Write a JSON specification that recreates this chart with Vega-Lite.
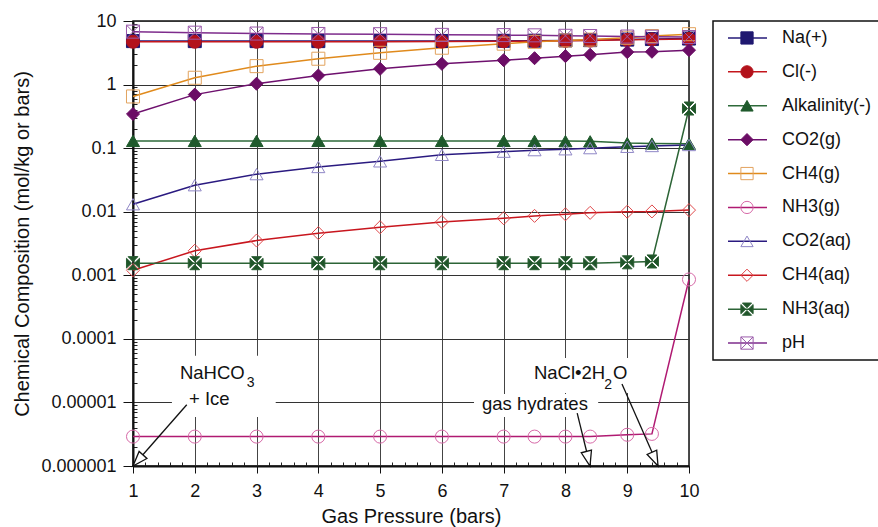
{
  "$schema": "https://vega.github.io/schema/vega-lite/v6.json",
  "padding": {"left": 12, "top": 11, "right": 0, "bottom": 0},
  "bounds": "flush",
  "spacing": 24,
  "config": {"font": "Liberation Sans", "view": {"stroke": "#111", "strokeWidth": 1.5}},
  "datasets": {
    "d": [
      {"p": 1, "Na(+)": 4.83, "Cl(-)": 4.72, "Alkalinity(-)": 0.13, "CO2(g)": 0.344, "CH4(g)": 0.65, "NH3(g)": 2.9e-6, "CO2(aq)": 0.0131, "CH4(aq)": 0.0012, "NH3(aq)": 0.00155, "pH": 6.8},
      {"p": 2, "Na(+)": 4.83, "Cl(-)": 4.72, "Alkalinity(-)": 0.13, "CO2(g)": 0.695, "CH4(g)": 1.28, "NH3(g)": 2.9e-6, "CO2(aq)": 0.0261, "CH4(aq)": 0.00243, "NH3(aq)": 0.00155, "pH": 6.55},
      {"p": 3, "Na(+)": 4.83, "Cl(-)": 4.72, "Alkalinity(-)": 0.13, "CO2(g)": 1.03, "CH4(g)": 1.95, "NH3(g)": 2.9e-6, "CO2(aq)": 0.039, "CH4(aq)": 0.00352, "NH3(aq)": 0.00155, "pH": 6.35},
      {"p": 4, "Na(+)": 4.83, "Cl(-)": 4.72, "Alkalinity(-)": 0.13, "CO2(g)": 1.39, "CH4(g)": 2.55, "NH3(g)": 2.9e-6, "CO2(aq)": 0.0505, "CH4(aq)": 0.0046, "NH3(aq)": 0.00155, "pH": 6.25},
      {"p": 5, "Na(+)": 4.83, "Cl(-)": 4.72, "Alkalinity(-)": 0.13, "CO2(g)": 1.77, "CH4(g)": 3.16, "NH3(g)": 2.9e-6, "CO2(aq)": 0.062, "CH4(aq)": 0.0057, "NH3(aq)": 0.00155, "pH": 6.2},
      {"p": 6, "Na(+)": 4.85, "Cl(-)": 4.75, "Alkalinity(-)": 0.13, "CO2(g)": 2.12, "CH4(g)": 3.8, "NH3(g)": 2.9e-6, "CO2(aq)": 0.0785, "CH4(aq)": 0.0069, "NH3(aq)": 0.00155, "pH": 6.05},
      {"p": 7, "Na(+)": 4.88, "Cl(-)": 4.8, "Alkalinity(-)": 0.13, "CO2(g)": 2.42, "CH4(g)": 4.4, "NH3(g)": 2.9e-6, "CO2(aq)": 0.088, "CH4(aq)": 0.0079, "NH3(aq)": 0.00155, "pH": 6.0},
      {"p": 7.5, "Na(+)": 4.9, "Cl(-)": 4.82, "Alkalinity(-)": 0.13, "CO2(g)": 2.6, "CH4(g)": 4.7, "NH3(g)": 2.9e-6, "CO2(aq)": 0.093, "CH4(aq)": 0.0086, "NH3(aq)": 0.00155, "pH": 5.95},
      {"p": 8, "Na(+)": 4.95, "Cl(-)": 4.88, "Alkalinity(-)": 0.129, "CO2(g)": 2.8, "CH4(g)": 4.95, "NH3(g)": 2.9e-6, "CO2(aq)": 0.096, "CH4(aq)": 0.0091, "NH3(aq)": 0.00155, "pH": 5.85},
      {"p": 8.4, "Na(+)": 5.0, "Cl(-)": 4.92, "Alkalinity(-)": 0.128, "CO2(g)": 2.94, "CH4(g)": 5.1, "NH3(g)": 2.9e-6, "CO2(aq)": 0.1, "CH4(aq)": 0.0096, "NH3(aq)": 0.00155, "pH": 5.8},
      {"p": 9, "Na(+)": 5.1, "Cl(-)": 5.05, "Alkalinity(-)": 0.12, "CO2(g)": 3.24, "CH4(g)": 5.45, "NH3(g)": 3.1e-6, "CO2(aq)": 0.105, "CH4(aq)": 0.01, "NH3(aq)": 0.0016, "pH": 5.7},
      {"p": 9.4, "Na(+)": 5.2, "Cl(-)": 5.12, "Alkalinity(-)": 0.118, "CO2(g)": 3.28, "CH4(g)": 5.8, "NH3(g)": 3.2e-6, "CO2(aq)": 0.108, "CH4(aq)": 0.0101, "NH3(aq)": 0.00165, "pH": 5.65},
      {"p": 10, "Na(+)": 5.3, "Cl(-)": 5.22, "Alkalinity(-)": 0.117, "CO2(g)": 3.48, "CH4(g)": 6.2, "NH3(g)": 0.00086, "CO2(aq)": 0.112, "CH4(aq)": 0.0106, "NH3(aq)": 0.42, "pH": 5.6}
    ],
    "series": [{"s": "Na(+)"}, {"s": "Cl(-)"}, {"s": "Alkalinity(-)"}, {"s": "CO2(g)"}, {"s": "CH4(g)"}, {"s": "NH3(g)"}, {"s": "CO2(aq)"}, {"s": "CH4(aq)"}, {"s": "NH3(aq)"}, {"s": "pH"}],
    "boxes": [
      {"x1": 1.63, "x2": 3.31, "y1": 5.9e-6, "y2": 5.4e-5},
      {"x1": 6.52, "x2": 8.53, "y1": 5.9e-6, "y2": 1.36e-5},
      {"x1": 7.41, "x2": 9.06, "y1": 1.41e-5, "y2": 5.0e-5}
    ],
    "arrows": [
      {"x1": 1.87, "y1": 9.2e-6, "x2": 1.0, "y2": 1e-6, "hx": 1.081, "hy": 1.22e-6, "a": 222},
      {"x1": 8.19, "y1": 6.8e-6, "x2": 8.4, "y2": 1e-6, "hx": 8.368, "hy": 1.3e-6, "a": 166},
      {"x1": 8.915, "y1": 1.95e-5, "x2": 9.5, "y2": 1e-6, "hx": 9.449, "hy": 1.28e-6, "a": 156}
    ],
    "labels": [
      {"x": 1.76, "y": 2.9e-5, "t": "NaHCO"},
      {"x": 1.906, "y": 1.13e-5, "t": "+ Ice"},
      {"x": 6.649, "y": 9.4e-6, "t": "gas hydrates"},
      {"x": 7.49, "y": 2.9e-5, "t": "NaCl•2H"},
      {"x": 8.77, "y": 2.9e-5, "t": "O"}
    ],
    "subs": [
      {"x": 2.84, "y": 2.02e-5, "t": "3"},
      {"x": 8.63, "y": 1.88e-5, "t": "2"}
    ]
  },
  "hconcat": [
    {
      "width": 556,
      "height": 445,
      "resolve": {"axis": {"x": "independent", "y": "independent"}},
      "layer": [
        {
          "data": {"name": "boxes"},
          "mark": {"type": "rect", "fill": "white", "stroke": null},
          "encoding": {
            "x": {"field": "x1", "type": "quantitative", "scale": {"domain": [1, 10], "nice": false, "zero": false},
              "axis": {"orient": "bottom", "values": [1.2,1.4,1.6,1.8,2.2,2.4,2.6,2.8,3.2,3.4,3.6,3.8,4.2,4.4,4.6,4.8,5.2,5.4,5.6,5.8,6.2,6.4,6.6,6.8,7.2,7.4,7.6,7.8,8.2,8.4,8.6,8.8,9.2,9.4,9.6,9.8],
                "labels": false, "grid": false, "domain": false, "ticks": true, "tickSize": -4, "tickColor": "#222", "tickWidth": 1, "title": null}},
            "x2": {"field": "x2"},
            "y": {"field": "y1", "type": "quantitative", "scale": {"type": "log", "domain": [1e-6, 10], "nice": false},
              "axis": {"orient": "left", "values": [2e-6,3e-6,4e-6,5e-6,6e-6,7e-6,8e-6,9e-6,2e-5,3e-5,4e-5,5e-5,6e-5,7e-5,8e-5,9e-5,2e-4,3e-4,4e-4,5e-4,6e-4,7e-4,8e-4,9e-4,2e-3,3e-3,4e-3,5e-3,6e-3,7e-3,8e-3,9e-3,2e-2,3e-2,4e-2,5e-2,6e-2,7e-2,8e-2,9e-2,0.2,0.3,0.4,0.5,0.6,0.7,0.8,0.9,2,3,4,5,6,7,8,9],
                "labels": false, "grid": false, "domain": false, "ticks": true, "tickSize": -4, "tickColor": "#222", "tickWidth": 1, "title": null}},
            "y2": {"field": "y2"}
          }
        },
        {
          "data": {"name": "d"},
          "transform": [{"fold": ["Na(+)", "Cl(-)", "Alkalinity(-)", "CO2(g)", "CH4(g)", "NH3(g)", "CO2(aq)", "CH4(aq)", "NH3(aq)", "pH"], "as": ["s", "v"]}],
          "mark": {"type": "line", "strokeWidth": 1.5},
          "encoding": {
            "x": {"field": "p", "type": "quantitative", "scale": {"domain": [1, 10], "nice": false, "zero": false},
              "axis": {"orient": "bottom", "values": [1,2,3,4,5,6,7,8,9,10], "format": "d", "grid": true, "gridColor": "#444", "gridWidth": 1,
                "tickSize": 7, "tickColor": "#111", "tickWidth": 1, "domainColor": "#111", "domainWidth": 2,
                "labelFontSize": 18, "labelColor": "#111", "labelPadding": 9, "labelFlush": false, "labelOverlap": false,
                "title": "Gas Pressure (bars)", "titleFontSize": 20, "titleFontWeight": "normal", "titleColor": "#111", "titlePadding": 6}},
            "y": {"field": "v", "type": "quantitative", "scale": {"type": "log", "domain": [1e-6, 10], "nice": false},
              "axis": {"orient": "left", "values": [1e-6, 1e-5, 1e-4, 1e-3, 0.01, 0.1, 1, 10], "format": ".6~f", "grid": true, "gridColor": "#333", "gridWidth": 1,
                "tickSize": 10, "tickColor": "#111", "tickWidth": 1, "domainColor": "#111", "domainWidth": 2,
                "labelFontSize": 18, "labelColor": "#111", "labelPadding": 7, "labelOverlap": false, "labelFlush": false,
                "title": "Chemical Composition (mol/kg or bars)", "titleFontSize": 20, "titleFontWeight": "normal", "titleColor": "#111", "titlePadding": 8}},
            "color": {"field": "s", "type": "nominal", "legend": null,
              "scale": {"domain": ["Na(+)", "Cl(-)", "Alkalinity(-)", "CO2(g)", "CH4(g)", "NH3(g)", "CO2(aq)", "CH4(aq)", "NH3(aq)", "pH"],
                "range": ["#241a78", "#c4161c", "#2e6a3a", "#6e106e", "#e08a1c", "#b01a72", "#2a1a80", "#c8161e", "#2c6436", "#7e2c8c"]}},
            "order": {"field": "p", "type": "quantitative"}
          }
        },
        {
          "data": {"name": "d"},
          "transform": [{"fold": ["Na(+)", "Cl(-)", "Alkalinity(-)", "CO2(g)", "CH4(g)", "NH3(g)", "CO2(aq)", "CH4(aq)", "NH3(aq)", "pH"], "as": ["s", "v"]}],
          "mark": {"type": "point", "size": 170, "strokeWidth": 1, "opacity": 1},
          "encoding": {
            "x": {"field": "p", "type": "quantitative", "scale": {"domain": [1, 10], "nice": false, "zero": false}, "axis": null},
            "y": {"field": "v", "type": "quantitative", "scale": {"type": "log", "domain": [1e-6, 10], "nice": false}, "axis": null},
            "shape": {"field": "s", "type": "nominal", "legend": null,
              "scale": {"domain": ["Na(+)", "Cl(-)", "Alkalinity(-)", "CO2(g)", "CH4(g)", "NH3(g)", "CO2(aq)", "CH4(aq)", "NH3(aq)", "pH"],
                "range": ["square", "circle", "triangle-up", "diamond", "square", "circle", "triangle-up", "diamond",
                  "M-0.75,-1L0.75,-1L0,-0.22Z M1,-0.75L1,0.75L0.22,0Z M0.75,1L-0.75,1L0,0.22Z M-1,0.75L-1,-0.75L-0.22,0Z",
                  "M-1,-1L1,-1L1,1L-1,1Z M-1,-1L1,1 M1,-1L-1,1"]}},
            "stroke": {"field": "s", "type": "nominal", "legend": null,
              "scale": {"domain": ["Na(+)", "Cl(-)", "Alkalinity(-)", "CO2(g)", "CH4(g)", "NH3(g)", "CO2(aq)", "CH4(aq)", "NH3(aq)", "pH"],
                "range": ["#1f1870", "#b3121b", "#1f5a2c", "#6b0d65", "#e2a35e", "#d76aa8", "#8f86c6", "#e0484a", "#2a5e33", "#9a5aaa"]}},
            "fill": {"field": "s", "type": "nominal", "legend": null,
              "scale": {"domain": ["Na(+)", "Cl(-)", "Alkalinity(-)", "CO2(g)", "CH4(g)", "NH3(g)", "CO2(aq)", "CH4(aq)", "NH3(aq)", "pH"],
                "range": ["#1f1870", "#b3121b", "#1f5a2c", "#6b0d65", "transparent", "transparent", "transparent", "transparent", "#1f5529", "transparent"]}}
          }
        },
        {
          "data": {"name": "arrows"},
          "mark": {"type": "rule", "color": "#111", "strokeWidth": 1.3},
          "encoding": {
            "x": {"field": "x1", "type": "quantitative", "scale": {"domain": [1, 10], "nice": false, "zero": false}, "axis": null},
            "y": {"field": "y1", "type": "quantitative", "scale": {"type": "log", "domain": [1e-6, 10], "nice": false}, "axis": null},
            "x2": {"field": "x2"},
            "y2": {"field": "y2"}
          }
        },
        {
          "data": {"name": "arrows"},
          "mark": {"type": "point", "shape": "M0,-1L0.7,1L-0.7,1Z", "size": 225, "fill": "white", "stroke": "#111", "strokeWidth": 1.3, "opacity": 1, "filled": true},
          "encoding": {
            "x": {"field": "hx", "type": "quantitative", "scale": {"domain": [1, 10], "nice": false, "zero": false}, "axis": null},
            "y": {"field": "hy", "type": "quantitative", "scale": {"type": "log", "domain": [1e-6, 10], "nice": false}, "axis": null},
            "angle": {"field": "a", "type": "quantitative", "scale": null}
          }
        },
        {
          "data": {"name": "labels"},
          "mark": {"type": "text", "align": "left", "baseline": "middle", "fontSize": 18.5, "color": "#111"},
          "encoding": {
            "x": {"field": "x", "type": "quantitative", "scale": {"domain": [1, 10], "nice": false, "zero": false}, "axis": null},
            "y": {"field": "y", "type": "quantitative", "scale": {"type": "log", "domain": [1e-6, 10], "nice": false}, "axis": null},
            "text": {"field": "t"}
          }
        },
        {
          "data": {"name": "subs"},
          "mark": {"type": "text", "align": "left", "baseline": "middle", "fontSize": 14, "color": "#111"},
          "encoding": {
            "x": {"field": "x", "type": "quantitative", "scale": {"domain": [1, 10], "nice": false, "zero": false}, "axis": null},
            "y": {"field": "y", "type": "quantitative", "scale": {"type": "log", "domain": [1e-6, 10], "nice": false}, "axis": null},
            "text": {"field": "t"}
          }
        }
      ]
    },
    {
      "width": 170,
      "height": 339,
      "data": {"name": "series"},
      "layer": [
        {
          "mark": {"type": "rule", "strokeWidth": 1.5},
          "encoding": {
            "y": {"field": "s", "type": "nominal", "sort": null, "scale": {"type": "point", "padding": 0.5, "domain": ["Na(+)", "Cl(-)", "Alkalinity(-)", "CO2(g)", "CH4(g)", "NH3(g)", "CO2(aq)", "CH4(aq)", "NH3(aq)", "pH"]}, "axis": null},
            "x": {"datum": 15, "type": "quantitative", "scale": {"domain": [0, 170], "nice": false, "zero": false}, "axis": null},
            "x2": {"datum": 54},
            "color": {"field": "s", "type": "nominal", "legend": null,
              "scale": {"domain": ["Na(+)", "Cl(-)", "Alkalinity(-)", "CO2(g)", "CH4(g)", "NH3(g)", "CO2(aq)", "CH4(aq)", "NH3(aq)", "pH"],
                "range": ["#241a78", "#c4161c", "#2e6a3a", "#6e106e", "#e08a1c", "#b01a72", "#2a1a80", "#c8161e", "#2c6436", "#7e2c8c"]}}
          }
        },
        {
          "mark": {"type": "point", "size": 150, "strokeWidth": 1, "opacity": 1},
          "encoding": {
            "y": {"field": "s", "type": "nominal", "sort": null, "scale": {"type": "point", "padding": 0.5, "domain": ["Na(+)", "Cl(-)", "Alkalinity(-)", "CO2(g)", "CH4(g)", "NH3(g)", "CO2(aq)", "CH4(aq)", "NH3(aq)", "pH"]}, "axis": null},
            "x": {"datum": 34, "type": "quantitative", "scale": {"domain": [0, 170], "nice": false, "zero": false}, "axis": null},
            "shape": {"field": "s", "type": "nominal", "legend": null,
              "scale": {"domain": ["Na(+)", "Cl(-)", "Alkalinity(-)", "CO2(g)", "CH4(g)", "NH3(g)", "CO2(aq)", "CH4(aq)", "NH3(aq)", "pH"],
                "range": ["square", "circle", "triangle-up", "diamond", "square", "circle", "triangle-up", "diamond",
                  "M-0.75,-1L0.75,-1L0,-0.22Z M1,-0.75L1,0.75L0.22,0Z M0.75,1L-0.75,1L0,0.22Z M-1,0.75L-1,-0.75L-0.22,0Z",
                  "M-1,-1L1,-1L1,1L-1,1Z M-1,-1L1,1 M1,-1L-1,1"]}},
            "stroke": {"field": "s", "type": "nominal", "legend": null,
              "scale": {"domain": ["Na(+)", "Cl(-)", "Alkalinity(-)", "CO2(g)", "CH4(g)", "NH3(g)", "CO2(aq)", "CH4(aq)", "NH3(aq)", "pH"],
                "range": ["#1f1870", "#b3121b", "#1f5a2c", "#6b0d65", "#e2a35e", "#d76aa8", "#8f86c6", "#e0484a", "#2a5e33", "#9a5aaa"]}},
            "fill": {"field": "s", "type": "nominal", "legend": null,
              "scale": {"domain": ["Na(+)", "Cl(-)", "Alkalinity(-)", "CO2(g)", "CH4(g)", "NH3(g)", "CO2(aq)", "CH4(aq)", "NH3(aq)", "pH"],
                "range": ["#1f1870", "#b3121b", "#1f5a2c", "#6b0d65", "transparent", "transparent", "transparent", "transparent", "#1f5529", "transparent"]}}
          }
        },
        {
          "mark": {"type": "text", "align": "left", "baseline": "middle", "fontSize": 18, "color": "#111"},
          "encoding": {
            "y": {"field": "s", "type": "nominal", "sort": null, "scale": {"type": "point", "padding": 0.5, "domain": ["Na(+)", "Cl(-)", "Alkalinity(-)", "CO2(g)", "CH4(g)", "NH3(g)", "CO2(aq)", "CH4(aq)", "NH3(aq)", "pH"]}, "axis": null},
            "x": {"datum": 69, "type": "quantitative", "scale": {"domain": [0, 170], "nice": false, "zero": false}, "axis": null},
            "text": {"field": "s"}
          }
        }
      ]
    }
  ]
}
